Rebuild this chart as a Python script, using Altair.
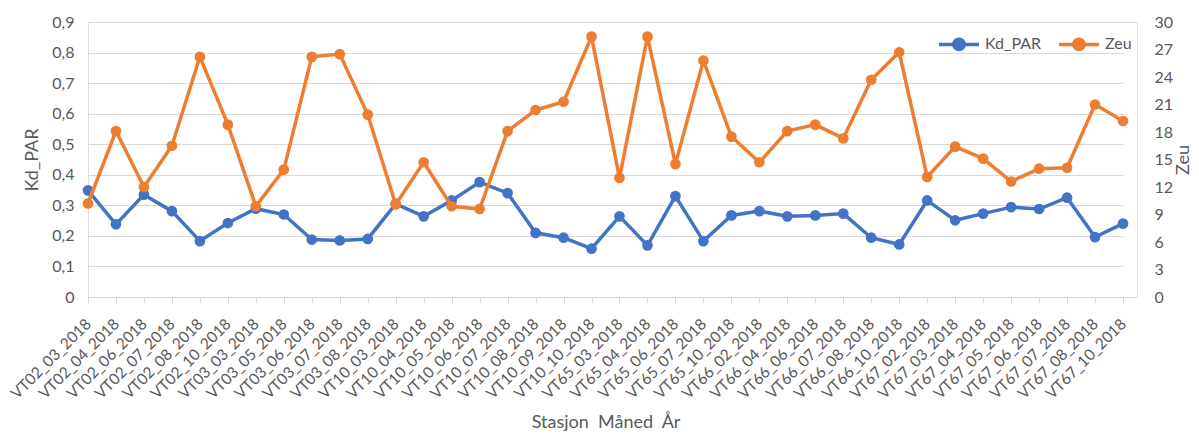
import altair as alt
import pandas as pd

stations = [
    "VT02_03_2018", "VT02_04_2018", "VT02_06_2018", "VT02_07_2018", "VT02_08_2018",
    "VT02_10_2018", "VT03_03_2018", "VT03_05_2018", "VT03_06_2018", "VT03_07_2018",
    "VT03_08_2018", "VT10_03_2018", "VT10_04_2018", "VT10_05_2018", "VT10_06_2018",
    "VT10_07_2018", "VT10_08_2018", "VT10_09_2018", "VT10_10_2018", "VT65_03_2018",
    "VT65_04_2018", "VT65_06_2018", "VT65_07_2018", "VT65_10_2018", "VT66_02_2018",
    "VT66_04_2018", "VT66_06_2018", "VT66_07_2018", "VT66_08_2018", "VT66_10_2018",
    "VT67_02_2018", "VT67_03_2018", "VT67_04_2018", "VT67_05_2018", "VT67_06_2018",
    "VT67_07_2018", "VT67_08_2018", "VT67_10_2018",
]
kd_par = [
    0.349, 0.238, 0.335, 0.281, 0.183, 0.242, 0.289, 0.270, 0.188, 0.185,
    0.190, 0.305, 0.264, 0.316, 0.376, 0.340, 0.210, 0.194, 0.158, 0.264,
    0.169, 0.330, 0.183, 0.267, 0.281, 0.264, 0.267, 0.273, 0.194, 0.172,
    0.316, 0.251, 0.273, 0.294, 0.288, 0.325, 0.196, 0.240,
]
zeu = [
    10.2, 18.1, 12.0, 16.5, 26.2, 18.8, 9.9, 13.9, 26.2, 26.5,
    19.9, 10.1, 14.7, 9.9, 9.6, 18.1, 20.4, 21.3, 28.4, 13.0,
    28.4, 14.5, 25.8, 17.5, 14.7, 18.1, 18.8, 17.3, 23.7, 26.7,
    13.1, 16.4, 15.1, 12.6, 14.0, 14.1, 21.0, 19.2,
]
series_names = ["Kd_PAR", "Zeu"]
series_colors = ["#4472C4", "#ED7D31"]
left_ticks = [0, 0.1, 0.2, 0.3, 0.4, 0.5, 0.6, 0.7, 0.8, 0.9]
right_ticks = [0, 3, 6, 9, 12, 15, 18, 21, 24, 27, 30]

df = pd.DataFrame({"Stasjon": stations, "Kd_PAR": kd_par, "Zeu": zeu})

FONT = "Lato"
TXT = "#595959"
GRID = "#D9D9D9"
W, H = 1049, 275
PAD_L, PAD_T = 80, 14
PAD_R = 1183 - PAD_L - W
PAD_B = 423 - PAD_T - H

x_enc = alt.X(
    "Stasjon:N",
    sort=stations,
    scale=alt.Scale(type="point", padding=0, range=[0, W - 14]),
    axis=alt.Axis(
        title="Stasjon\u00a0\u00a0Måned\u00a0\u00a0År",
        labelAngle=315,
        labelAlign="right",
        labelBaseline="middle",
        labelFontSize=15.5,
        labelPadding=18,
        labelColor=TXT,
        labelFont=FONT,
        titleFont=FONT,
        titleFontSize=18,
        titleFontWeight="normal",
        titleColor=TXT,
        titleBaseline="alphabetic",
        titleY=130,
        domainColor=GRID,
        tickColor=GRID,
        tickSize=6,
        grid=False,
        labelOverlap=False,
    ),
)

color_enc = alt.Color(
    "series:N",
    scale=alt.Scale(domain=series_names, range=series_colors),
    legend=alt.Legend(
        title=None,
        orient="none",
        direction="horizontal",
        legendX=849,
        legendY=0,
        symbolType="M-1,0L1,0M0.26,0A0.26,0.26,0,1,1,-0.26,0A0.26,0.26,0,1,1,0.26,0Z",
        symbolSize=1600,
        symbolStrokeWidth=3.5,
        labelFont=FONT,
        labelFontSize=16,
        labelColor=TXT,
        labelOffset=4,
        columnPadding=10,
        padding=0,
    ),
)

left_axis = alt.Axis(
    title="Kd_PAR",
    values=left_ticks,
    labelExpr="datum.value == 0 ? '0' : replace(format(datum.value, '.1f'), '.', ',')",
    labelFont=FONT,
    labelFontSize=16,
    labelColor=TXT,
    labelPadding=14,
    titleFont=FONT,
    titleFontSize=18,
    titleFontWeight="normal",
    titleColor=TXT,
    titlePadding=10,
    ticks=False,
    tickSize=0,
    domain=False,
    grid=True,
    gridColor=GRID,
    gridWidth=1,
)
right_axis = alt.Axis(
    title="Zeu",
    orient="right",
    values=right_ticks,
    labelFont=FONT,
    labelFontSize=16,
    labelColor=TXT,
    labelPadding=17,
    titleFont=FONT,
    titleFontSize=18,
    titleFontWeight="normal",
    titleColor=TXT,
    titleAngle=270,
    titleAlign="center",
    titleBaseline="middle",
    titleX=46,
    titleY=H / 2,
    ticks=False,
    tickSize=0,
    domain=False,
    grid=False,
)

kd_base = alt.Chart(df).transform_fold(["Kd_PAR"], as_=["series", "value"])
kd_y = alt.Y("value:Q", scale=alt.Scale(domain=[0, 0.9], nice=False), axis=left_axis)
kd_layer = alt.layer(
    kd_base.mark_line(strokeWidth=3.5).encode(x=x_enc, y=kd_y, color=color_enc),
    kd_base.mark_point(filled=True, size=115, opacity=1).encode(x=x_enc, y=kd_y, color=color_enc),
)

zeu_base = alt.Chart(df).transform_fold(["Zeu"], as_=["series", "value"])
zeu_y = alt.Y("value:Q", scale=alt.Scale(domain=[0, 30], nice=False), axis=right_axis)
zeu_layer = alt.layer(
    zeu_base.mark_line(strokeWidth=3.5).encode(x=x_enc, y=zeu_y, color=color_enc),
    zeu_base.mark_point(filled=True, size=115, opacity=1).encode(x=x_enc, y=zeu_y, color=color_enc),
)

chart = (
    alt.layer(kd_layer, zeu_layer)
    .resolve_scale(y="independent")
    .properties(
        width=W,
        height=H,
        autosize=alt.AutoSizeParams(type="none"),
        padding={"left": PAD_L, "top": PAD_T, "right": PAD_R, "bottom": PAD_B},
    )
    .configure_view(stroke=None)
    .configure(background="white")
)

chart.save("out.html", embed_options={"renderer": "svg", "actions": False})
